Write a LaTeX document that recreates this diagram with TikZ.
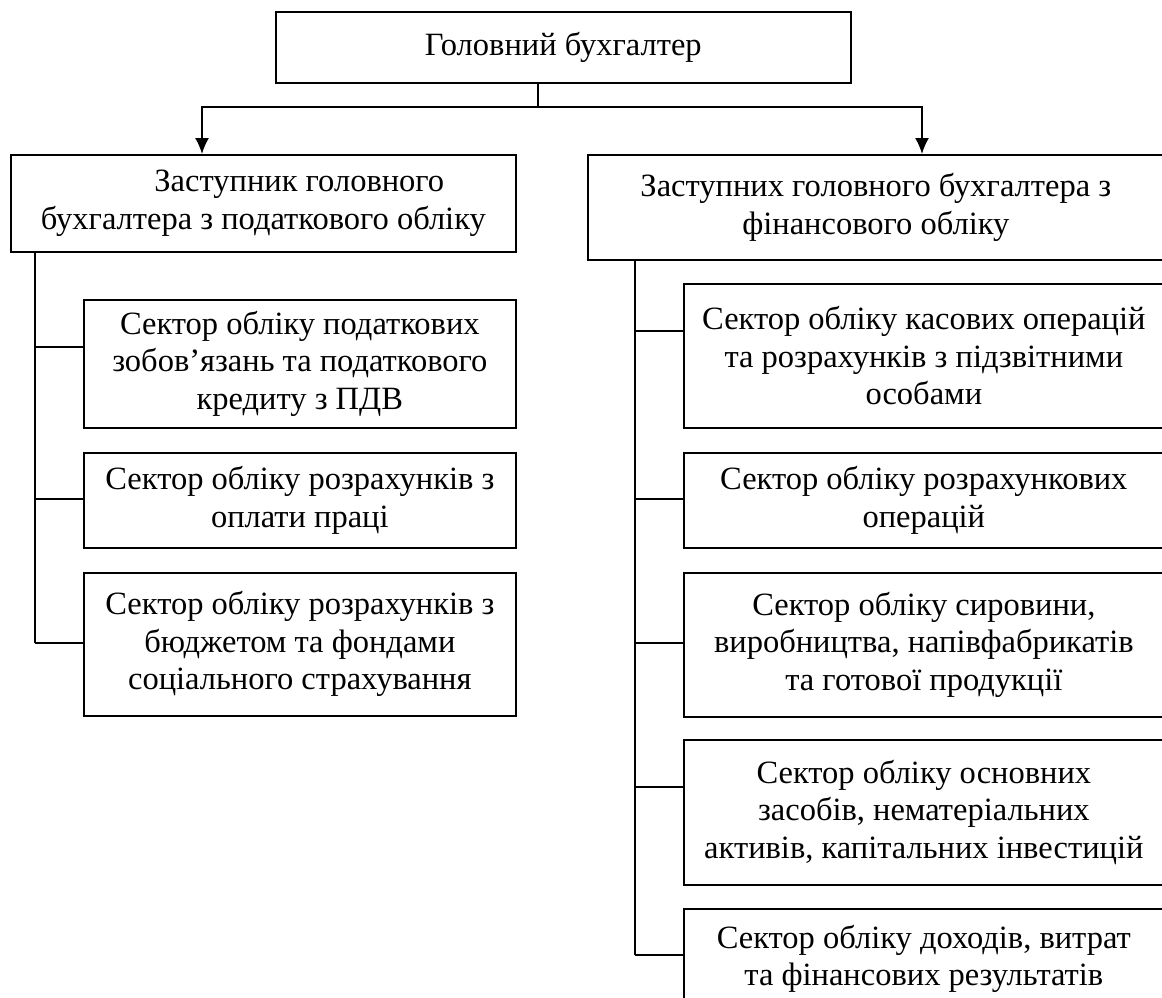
\documentclass[tikz,border=0pt]{standalone}
\usepackage{fontspec}
\setmainfont{Liberation Serif}
\usetikzlibrary{arrows.meta}
\newcommand\boxfont{\fontsize{32.5}{37.5}\selectfont}
\begin{document}
\begin{tikzpicture}[x=1pt,y=-1pt,
  box/.style={draw, line width=1.7pt, inner sep=0pt, anchor=north west, align=center, font=\boxfont},
  link/.style={line width=1.7pt},
  arr/.style={line width=1.7pt, -{Latex[length=16pt,width=14pt]}}]
\useasboundingbox (0,0) rectangle (1162,998);
\clip (0,0) rectangle (1162,998);
% boxes
\node[box, minimum width=575pt, minimum height=71pt] (top) at (275,11) {Головний бухгалтер};
\node[box, minimum width=505pt, minimum height=97pt] (L1) at (10,154) {\hspace*{72pt}Заступник головного\\бухгалтера з податкового обліку};
\node[box, minimum width=576pt, minimum height=105pt] (R1) at (587,154) {Заступних головного бухгалтера з\\фінансового обліку};
\node[box, minimum width=432pt, minimum height=128pt] (L2) at (83,299) {Сектор обліку податкових\\зобов’язань та податкового\\кредиту з ПДВ};
\node[box, minimum width=432pt, minimum height=95pt] (L3) at (83,452) {Сектор обліку розрахунків з\\оплати праці};
\node[box, minimum width=432pt, minimum height=143pt] (L4) at (83,572) {Сектор обліку розрахунків з\\бюджетом та фондами\\соціального страхування};
\node[box, minimum width=480pt, minimum height=144pt] (R2) at (683,283) {Сектор обліку касових операцій\\та розрахунків з підзвітними\\особами};
\node[box, minimum width=480pt, minimum height=95pt] (R3) at (683,452) {Сектор обліку розрахункових\\операцій};
\node[box, minimum width=480pt, minimum height=144pt] (R4) at (683,572) {Сектор обліку сировини,\\виробництва, напівфабрикатів\\та готової продукції};
\node[box, minimum width=480pt, minimum height=145pt] (R5) at (683,739) {Сектор обліку основних\\засобів, нематеріальних\\активів, капітальних інвестицій};
\node[box, minimum width=480pt, minimum height=100pt] (R6) at (683,908) {Сектор обліку доходів, витрат\\та фінансових результатів};
% junction coordinates
\coordinate (s0) at (538,82);
\coordinate (s1) at (538,107);
\coordinate (aL) at (202,154);
\coordinate (aR) at (922,154);
\coordinate (tL) at (35,251);
\coordinate (bL2) at (35,347);
\coordinate (bL3) at (35,499);
\coordinate (bL4) at (35,643);
\coordinate (tR) at (635,259);
\coordinate (bR2) at (635,331);
\coordinate (bR3) at (635,499);
\coordinate (bR4) at (635,643);
\coordinate (bR5) at (635,787);
\coordinate (bR6) at (635,955);
% top connectors
\draw[link] (s0) -- (s1);
\draw[arr] (s1) -| (aL);
\draw[arr] (s1) -| (aR);
% left trunk
\draw[link] (tL) -- (bL4);
\draw[link] (bL2) -- (bL2 -| L2.west);
\draw[link] (bL3) -- (bL3 -| L3.west);
\draw[link] (bL4) -- (bL4 -| L4.west);
% right trunk
\draw[link] (tR) -- (bR6);
\draw[link] (bR2) -- (bR2 -| R2.west);
\draw[link] (bR3) -- (bR3 -| R3.west);
\draw[link] (bR4) -- (bR4 -| R4.west);
\draw[link] (bR5) -- (bR5 -| R5.west);
\draw[link] (bR6) -- (bR6 -| R6.west);
\end{tikzpicture}
\end{document}
